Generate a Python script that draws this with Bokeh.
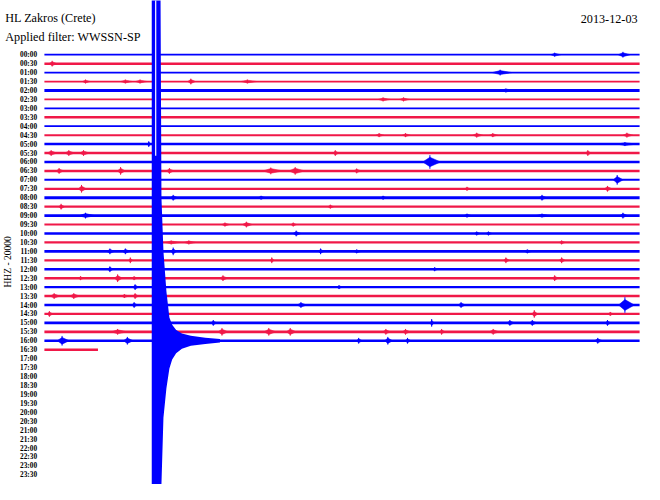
from bokeh.plotting import figure
from bokeh.models import Range1d
from bokeh.embed import file_html
from bokeh.resources import INLINE
from bokeh.core.properties import value

station = "HL Zakros (Crete)"
filter_text = "Applied filter: WWSSN-SP"
date_text = "2013-12-03"
channel_text = "HHZ - 20000"

row_labels = ["00:00", "00:30", "01:00", "01:30", "02:00", "02:30", "03:00", "03:30",
              "04:00", "04:30", "05:00", "05:30", "06:00", "06:30", "07:00", "07:30",
              "08:00", "08:30", "09:00", "09:30", "10:00", "10:30", "11:00", "11:30",
              "12:00", "12:30", "13:00", "13:30", "14:00", "14:30", "15:00", "15:30",
              "16:00", "16:30", "17:00", "17:30", "18:00", "18:30", "19:00", "19:30",
              "20:00", "20:30", "21:00", "21:30", "22:00", "22:30", "23:00", "23:30"]

# minutes of data recorded in each 30-minute line (rows 0..33)
row_end = [30.0] * 33 + [2.7]
# background noise half-amplitude per line (in line spacings)
row_noise = [0.10, 0.14, 0.10, 0.10, 0.16, 0.10, 0.10, 0.14, 0.10, 0.11,
             0.14, 0.14, 0.14, 0.14, 0.11, 0.13, 0.17, 0.13, 0.15, 0.12,
             0.13, 0.12, 0.15, 0.12, 0.13, 0.14, 0.13, 0.14, 0.14, 0.13,
             0.15, 0.15, 0.15, 0.14]

# local events: line index, minute in line, half-amplitude (line spacings), duration (min)
burst_row = [0, 0, 1, 2, 3, 3, 3, 3, 3, 4, 5, 5, 9, 9, 9, 9, 9, 10, 10,
             11, 11, 11, 11, 11, 12, 13, 13, 13, 13, 13, 13, 14, 15, 15, 15,
             16, 16, 16, 16, 17, 17, 18, 18, 18, 18, 19, 19, 19, 20, 20, 20,
             21, 21, 21, 22, 22, 22, 22, 22, 22, 23, 23, 23, 23, 24, 24,
             25, 25, 25, 25, 25, 26, 26, 27, 27, 27, 27, 28, 28, 28, 28,
             29, 29, 29, 30, 30, 30, 30, 30, 31, 31, 31, 31, 31, 31, 31, 31, 31,
             32, 32, 32, 32, 32, 32]
burst_min = [29.16, 25.72, 0.39, 22.97, 2.07, 4.08, 4.82, 7.38, 10.23, 23.26, 17.07, 18.10,
             16.87, 18.20, 21.79, 22.60, 29.36, 5.26, 29.26,
             0.34, 1.23, 1.97, 14.66, 27.39, 19.43, 0.74, 3.84, 6.30, 11.41, 12.64, 15.74,
             28.87, 1.87, 28.38, 21.30,
             6.49, 10.92, 25.08, 17.07, 0.84, 14.41, 2.07, 21.30, 25.08, 29.16,
             9.10, 10.18, 12.54, 12.69, 21.79, 22.38,
             6.39, 7.28, 26.07, 3.30, 4.08, 6.49, 13.92, 15.74, 24.34,
             4.33, 11.46, 23.26, 26.07, 3.30, 19.67,
             1.82, 3.69, 4.52, 9.00, 25.72, 4.57, 14.85, 0.49, 1.48, 4.03, 4.57,
             4.52, 12.93, 21.00, 29.26,
             0.25, 24.69, 28.52, 8.51, 19.52, 23.46, 24.59, 28.38,
             3.69, 6.54, 8.95, 11.31, 12.39, 17.21, 18.20, 20.02, 22.62,
             0.89, 4.18, 15.84, 17.31, 18.30, 27.89]
burst_amp = [0.32, 0.22, 0.32, 0.32, 0.22, 0.22, 0.22, 0.32, 0.22, 0.22, 0.22, 0.22,
             0.22, 0.22, 0.27, 0.22, 0.27, 0.32, 0.22,
             0.32, 0.32, 0.32, 0.32, 0.32, 0.76, 0.32, 0.43, 0.32, 0.38, 0.43, 0.27,
             0.54, 0.43, 0.32, 0.22,
             0.32, 0.22, 0.32, 0.22, 0.32, 0.22, 0.32, 0.22, 0.22, 0.32,
             0.22, 0.32, 0.22, 0.32, 0.22, 0.22,
             0.22, 0.22, 0.22, 0.32, 0.32, 0.43, 0.32, 0.22, 0.22,
             0.32, 0.32, 0.32, 0.32, 0.32, 0.22,
             0.22, 0.43, 0.22, 0.32, 0.32, 0.32, 0.22, 0.32, 0.32, 0.22, 0.32,
             0.32, 0.32, 0.32, 0.87,
             0.32, 0.43, 0.22, 0.32, 0.43, 0.32, 0.32, 0.32,
             0.32, 0.32, 0.43, 0.43, 0.43, 0.32, 0.32, 0.32, 0.32,
             0.54, 0.43, 0.32, 0.43, 0.32, 0.32]
burst_dur = [0.6, 0.5, 0.4, 1.0, 0.4, 0.6, 0.6, 0.4, 0.8, 0.8, 0.6, 0.5,
             0.4, 0.4, 0.5, 0.4, 0.5, 0.2, 1.0,
             0.5, 0.5, 0.5, 0.3, 0.3, 0.9, 0.4, 0.4, 0.4, 1.0, 0.8, 0.4,
             0.5, 0.4, 0.4, 0.3,
             0.4, 0.4, 0.4, 0.3, 0.3, 0.3, 0.8, 0.4, 0.8, 0.4,
             0.4, 0.5, 0.3, 0.4, 0.3, 0.3,
             0.8, 0.6, 0.3, 0.4, 0.4, 0.3, 0.3, 0.4, 0.4,
             0.2, 0.2, 0.3, 0.3, 0.3, 0.3,
             0.3, 0.4, 0.3, 0.4, 0.3, 0.3, 0.3, 0.5, 0.5, 0.4, 0.3,
             0.3, 0.5, 0.4, 0.8,
             0.3, 0.3, 0.3, 0.3, 0.2, 0.4, 0.4, 0.3,
             0.8, 0.4, 0.5, 0.6, 0.5, 0.4, 0.4, 0.3, 0.5,
             0.6, 0.5, 0.3, 0.4, 0.3, 0.4]

# the large earthquake on the 16:00 line: envelope above / below the trace
quake_row = 32
quake_min = [5.41, 5.84, 5.90, 6.00, 6.15, 6.30, 6.44, 6.64, 6.93, 7.38, 8.11, 8.85]
quake_up = [45.0, 45.0, 16.0, 10.0, 5.5, 2.6, 1.8, 1.2, 0.8, 0.55, 0.35, 0.2]
quake_down = [20.0, 20.0, 16.0, 8.6, 5.3, 3.1, 2.1, 1.4, 0.9, 0.55, 0.35, 0.2]
quake_gap_min = 5.61
quake_gap_up = [45.0, 20.7]

BLUE = "#0000FF"
RED = "#F01848"
FONT = value("Liberation Serif")

n_rows = len(row_end)
rows = list(range(n_rows))
row_colors = [BLUE if r % 2 == 0 else RED for r in rows]

p = figure(width=644, height=484, x_range=Range1d(-2.213, 30.247),
           y_range=Range1d(48.08, -6.064), toolbar_location=None,
           output_backend="svg", min_border=0, title=None)
p.axis.visible = False
p.xgrid.visible = False
p.ygrid.visible = False
p.outline_line_color = None
p.background_fill_color = "white"
p.border_fill_color = "white"

# traces
p.hbar(y=rows, left=0, right=row_end, height=[2 * n for n in row_noise],
       fill_color=row_colors, line_color=None)

# events as spindles
xs, ys, cs = [], [], []
for r, m, a, d in zip(burst_row, burst_min, burst_amp, burst_dur):
    xs.append([m - d * 0.4, m, m + d * 0.6, m])
    ys.append([r, r - a * 0.7, r, r + a * 0.7])
    cs.append(BLUE if r % 2 == 0 else RED)
p.patches(xs, ys, fill_color=cs, line_color=cs, line_width=0.5)
p.segment(x0=burst_min, x1=burst_min,
          y0=[r - a for r, a in zip(burst_row, burst_amp)],
          y1=[r + a for r, a in zip(burst_row, burst_amp)],
          line_color=[BLUE if r % 2 == 0 else RED for r in burst_row], line_width=1)

# earthquake
p.varea(x=quake_min, y1=[quake_row - u for u in quake_up],
        y2=[quake_row + d for d in quake_down], fill_color=BLUE)
p.segment(x0=[quake_gap_min], x1=[quake_gap_min],
          y0=[quake_row - quake_gap_up[0]], y1=[quake_row - quake_gap_up[1]],
          line_color="white", line_width=1.2)

# time labels
p.text(x=[-0.37] * len(row_labels), y=list(range(len(row_labels))), text=row_labels,
       text_align="right", text_baseline="middle", text_font=FONT,
       text_font_size="7.3px", text_font_style="bold", text_color="black")

# header texts
p.text(x=[-1.97], y=[-4.12], text=[station], text_align="left", text_baseline="middle",
       text_font=FONT, text_font_size="12.2px", text_color="black")
p.text(x=[-1.97], y=[-2.0], text=[filter_text], text_align="left", text_baseline="middle",
       text_font=FONT, text_font_size="12.2px", text_color="black")
p.text(x=[29.9], y=[-4.0], text=[date_text], text_align="right", text_baseline="middle",
       text_font=FONT, text_font_size="12.2px", text_color="black")
p.text(x=[-1.85], y=[23.18], text=[channel_text], angle=1.5708, text_align="center",
       text_baseline="middle", text_font=FONT,
       text_font_size="9.5px", text_color="black")

open("out.html", "w").write(file_html(p, INLINE))
